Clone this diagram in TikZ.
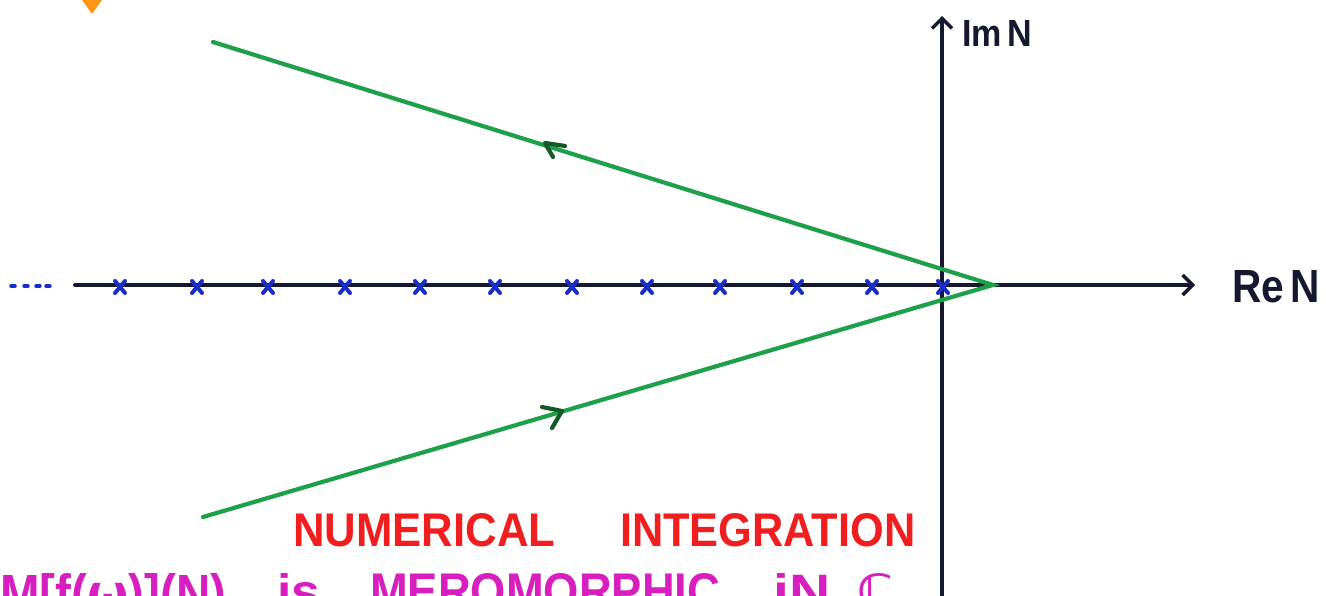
\documentclass[tikz,border=0pt]{standalone}
\usepackage{fontspec}
\setmainfont{Liberation Sans}
\newfontfamily\symfont{DejaVu Sans}
\usetikzlibrary{arrows.meta,calc}
\definecolor{axiscol}{RGB}{22,24,48}
\definecolor{polecol}{RGB}{25,45,200}
\definecolor{contcol}{RGB}{30,160,75}
\definecolor{chevcol}{RGB}{20,90,40}
\definecolor{redtext}{RGB}{240,30,30}
\definecolor{magtext}{RGB}{215,30,190}
\definecolor{orangecol}{RGB}{250,150,20}
\tikzset{
  axisline/.style={draw=axiscol,line width=4pt,line cap=round,-{Straight Barb[length=10pt,width=20pt,line width=3.5pt]}},
  contour/.style={draw=contcol,line width=4.2pt,line cap=round},
  pole/.style={draw=polecol,line width=4pt,line cap=round},
  labeltext/.style={inner sep=0pt,anchor=north west,text=axiscol,font=\bfseries},
  redlab/.style={inner sep=0pt,anchor=north west,text=redtext,font=\bfseries},
  maglab/.style={inner sep=0pt,anchor=north west,text=magtext,font=\bfseries},
  chevron/.style={draw=chevcol,line width=4.2pt,line cap=round,line join=round},
}
\newcommand{\polemark}[1]{\draw[pole] ($(#1)+(-5,-6)$) -- ($(#1)+(5,6)$) ($(#1)+(-5,6)$) -- ($(#1)+(5,-6)$);}
\begin{document}
\begin{tikzpicture}[x=1pt,y=-1pt]
\useasboundingbox (0,0) rectangle (1326,596);
\clip (0,0) rectangle (1326,596);
% orange fragment top left
\fill[orangecol] (82,0) -- (102,0) -- (92,14) -- cycle;
% coordinates
\coordinate (reS) at (75,285);
\coordinate (reE) at (1195,285);
\coordinate (imS) at (942,600);
\coordinate (imE) at (942,16);
\coordinate (apex) at (993,285);
\coordinate (up) at (213,42);
\coordinate (lo) at (203,517);
% axes
\draw[axisline] (reS) -- (reE);
\draw[axisline] (imS) -- (imE);
\node[labeltext] (imlab) at (962,20) {\resizebox{70pt}{26pt}{Im\,N}};
\node[labeltext] (relab) at (1232,270) {\resizebox{88pt}{32pt}{Re\,N}};
% dots
\foreach \x in {13,26,38,48} \draw[polecol,line width=3.5pt,line cap=round] (\x-2,286) -- (\x+2,286);
% poles
\foreach \x in {120,197,268,345,420,495,572,647,720,797,872,943}{
  \coordinate (p\x) at (\x,287);
  \polemark{p\x}
}
% contour
\draw[contour] (up) -- (apex) -- (lo);
% chevrons
\coordinate (cu) at (545,143);
\draw[chevron] ($(cu)+(20,3)$) -- (cu) -- ($(cu)+(8,14)$);
\coordinate (cl) at (562,411);
\draw[chevron] ($(cl)+(-20,-4)$) -- (cl) -- ($(cl)+(-10,17)$);
% red text
\node[redlab] (num) at (293,513) {\resizebox{262pt}{33pt}{NUMERICAL}};
\node[redlab] (intg) at (620,513) {\resizebox{295pt}{33pt}{INTEGRATION}};
% magenta text (cut off at the bottom edge, as in the reference)
\node[maglab] (m1) at (0,573) {\resizebox{226pt}{40pt}{M[f(\symfont\bfseries ω\rmfamily)](N)}};
\node[maglab] (m2) at (277,573) {\resizebox{43pt}{35pt}{is}};
\node[maglab] (m3) at (370,573) {\resizebox{350pt}{35pt}{MEROMORPHIC}};
\node[maglab] (m4) at (773,573) {\resizebox{57pt}{35pt}{iN}};
\node[maglab] (m5) at (857,573) {\resizebox{36pt}{35pt}{\symfont ℂ}};
\end{tikzpicture}
\end{document}
